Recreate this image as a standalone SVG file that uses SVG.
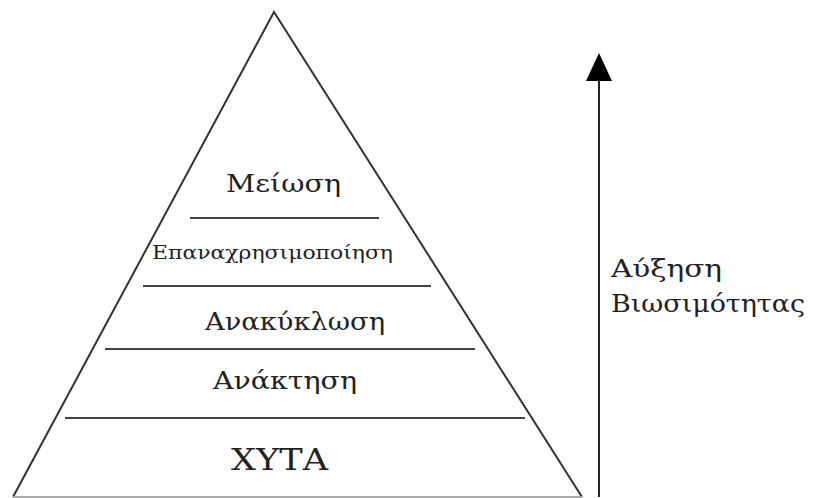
<svg xmlns="http://www.w3.org/2000/svg" width="815" height="498" viewBox="0 0 815 498">
<style>
.edge{stroke:#333;stroke-width:2;fill:none}
.sep{stroke:#444;stroke-width:2}
.lbl{font-family:"DejaVu Serif","Liberation Serif",serif;fill:#222}
</style>
<rect width="815" height="498" fill="#fff"/>
<g id="pyramid">
<polyline class="edge" points="13,497 274,12 582,497"/>
<line x1="13" y1="497" x2="582" y2="497" stroke="#aaa" stroke-width="2"/>
</g>
<g id="meiosi"><text class="lbl" x="226" y="192" font-size="25" textLength="115" lengthAdjust="spacingAndGlyphs">Μείωση</text></g>
<line class="sep" x1="190" y1="218" x2="379" y2="218"/>
<g id="epanaxrisimopoiisi"><text class="lbl" x="152" y="259" font-size="18" textLength="241" lengthAdjust="spacingAndGlyphs">Επαναχρησιμοποίηση</text></g>
<line class="sep" x1="143" y1="286" x2="431" y2="286"/>
<g id="anakyklosi"><text class="lbl" x="205" y="330" font-size="25" textLength="180" lengthAdjust="spacingAndGlyphs">Ανακύκλωση</text></g>
<line class="sep" x1="105" y1="349" x2="475" y2="349"/>
<g id="anaktisi"><text class="lbl" x="213" y="389" font-size="25" textLength="144" lengthAdjust="spacingAndGlyphs">Ανάκτηση</text></g>
<line class="sep" x1="65" y1="418" x2="525" y2="418"/>
<g id="xyta"><text class="lbl" x="231" y="470" font-size="29" textLength="97" lengthAdjust="spacingAndGlyphs">ΧΥΤΑ</text></g>
<g id="connectors">
<line x1="599" y1="497" x2="599" y2="78" stroke="#222" stroke-width="2"/>
<polygon points="599,53 586,81 612,81" fill="#000"/>
</g>
<g id="label">
<text class="lbl" x="611" y="277" font-size="24" textLength="111" lengthAdjust="spacingAndGlyphs">Αύξηση</text>
<text class="lbl" x="611" y="312" font-size="24" textLength="194" lengthAdjust="spacingAndGlyphs">Βιωσιμότητας</text>
</g>
</svg>
